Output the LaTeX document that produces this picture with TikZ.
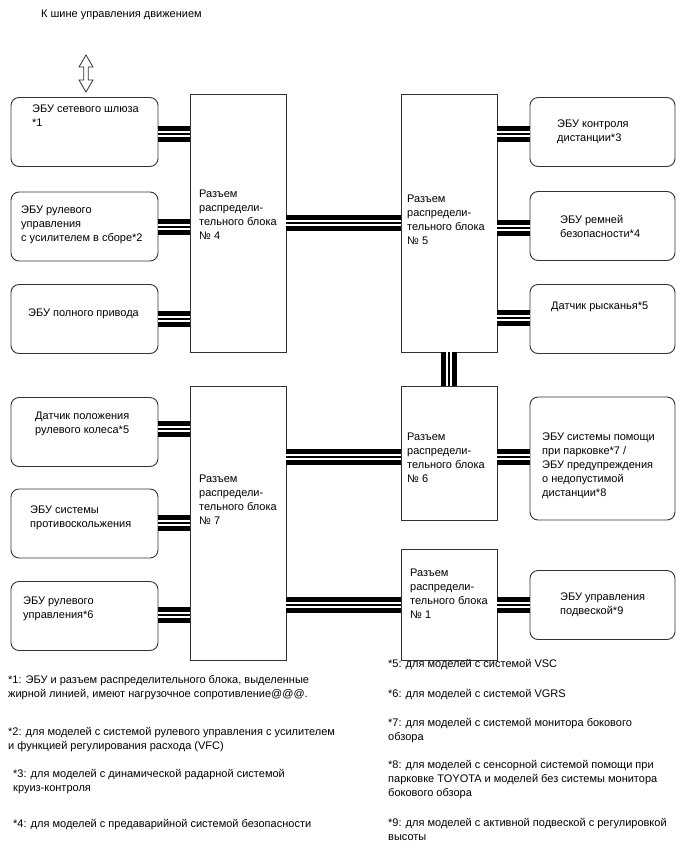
\documentclass[tikz,border=0pt]{standalone}
\usepackage{fontspec}
\setmainfont{Liberation Sans}
\usetikzlibrary{positioning}
\definecolor{lnkgray}{HTML}{333333}

\tikzset{
  ecu/.style={draw=lnkgray, line width=0.9pt, rounded corners=8pt, minimum width=147pt, minimum height=69pt, inner sep=0pt},
  jbox/.style={draw=lnkgray, line width=0.9pt, minimum width=96pt, inner sep=0pt},
  txt/.style={anchor=north west, inner sep=0pt, align=left, font=\fontsize{11}{14}\selectfont},
  bus/.style={line width=15.5pt, postaction={draw=white, line width=6.4pt}, postaction={draw=black, line width=1.2pt}}
}
\newcommand{\busline}[3]{\draw[bus] (#1.east |- 0,#3) -- (#2.west |- 0,#3);}

\begin{document}
\begin{tikzpicture}[x=1pt, y=-1pt]
\useasboundingbox (0,0) rectangle (688,852);

% bus arrow
\node[txt] (title) at (41,10) {К шине управления движением};
\draw[lnkgray, line width=0.8pt, fill=white] (86,55) -- (93,67) -- (88.2,67) -- (88.2,80) -- (93,80) -- (86,92) -- (79,80) -- (83.8,80) -- (83.8,67) -- (79,67) -- cycle;

% junction blocks
\node[jbox, minimum height=258pt] (jb4) at (238,223) {};
\node[jbox, minimum height=258pt] (jb5) at (449,223) {};
\node[jbox, minimum height=134pt] (jb6) at (449,453) {};
\node[jbox, minimum height=274pt] (jb7) at (238,523) {};
\node[jbox, minimum height=111pt] (jb1) at (449,604.5) {};

% ECUs, left
\node[ecu] (gw) at (84.5,132) {};
\node[ecu] (eps) at (84.5,226.5) {};
\node[ecu] (awd) at (84.5,319) {};
\node[ecu] (sas) at (84.5,432) {};
\node[ecu] (skid) at (84.5,523.5) {};
\node[ecu] (vgrs) at (84.5,616) {};

% ECUs, right
\node[ecu, minimum width=145pt] (dist) at (602.5,132) {};
\node[ecu, minimum width=145pt] (belt) at (602.5,226) {};
\node[ecu, minimum width=145pt] (yaw) at (602.5,319) {};
\node[ecu, minimum width=145pt, minimum height=123pt] (park) at (602.5,458.5) {};
\node[ecu, minimum width=145pt] (susp) at (602.5,605) {};

% texts
\node[txt] (gwt) at (32,105) {ЭБУ сетевого шлюза\\*1};
\node[txt] (epst) at (21,206) {ЭБУ рулевого\\управления\\с усилителем в сборе*2};
\node[txt] (awdt) at (28,309) {ЭБУ полного привода};
\node[txt] (sast) at (35,412) {Датчик положения\\рулевого колеса*5};
\node[txt] (skidt) at (30,506) {ЭБУ системы\\противоскольжения};
\node[txt] (vgrst) at (23,597) {ЭБУ рулевого\\управления*6};
\node[txt] (distt) at (557,120) {ЭБУ контроля\\дистанции*3};
\node[txt] (beltt) at (560,215) {ЭБУ ремней\\безопасности*4};
\node[txt] (yawt) at (551,302) {Датчик рысканья*5};
\node[txt] (parkt) at (542,433) {ЭБУ системы помощи\\при парковке*7 /\\ЭБУ предупреждения\\о недопустимой\\дистанции*8};
\node[txt] (suspt) at (560,593) {ЭБУ управления\\подвеской*9};
\node[txt] (jb4t) at (199,190) {Разъем\\распредели-\\тельного блока\\№ 4};
\node[txt] (jb5t) at (407,195) {Разъем\\распредели-\\тельного блока\\№ 5};
\node[txt] (jb6t) at (407,433) {Разъем\\распредели-\\тельного блока\\№ 6};
\node[txt] (jb7t) at (199,475) {Разъем\\распредели-\\тельного блока\\№ 7};
\node[txt] (jb1t) at (410,569) {Разъем\\распредели-\\тельного блока\\№ 1};

% buses
\busline{gw}{jb4}{134}
\busline{eps}{jb4}{227}
\busline{awd}{jb4}{319}
\busline{jb4}{jb5}{223}
\busline{jb5}{dist}{134}
\busline{jb5}{belt}{228}
\busline{jb5}{yaw}{318}
\draw[bus] (jb5.south) -- (jb6.north);
\busline{sas}{jb7}{429}
\busline{skid}{jb7}{523}
\busline{vgrs}{jb7}{615}
\busline{jb7}{jb6}{457}
\busline{jb6}{park}{457}
\busline{jb7}{jb1}{605}
\busline{jb1}{susp}{605}

% notes
\node[txt] (fn1) at (8,675) {*1: ЭБУ и разъем распределительного блока, выделенные\\жирной линией, имеют нагрузочное сопротивление@@@.};
\node[txt] (fn2) at (8,727) {*2: для моделей с системой рулевого управления с усилителем\\и функцией регулирования расхода (VFC)};
\node[txt] (fn3) at (13,769) {*3: для моделей с динамической радарной системой\\круиз-контроля};
\node[txt] (fn4) at (13,819) {*4: для моделей с предаварийной системой безопасности};
\node[txt] (fn5) at (388,659) {*5: для моделей с системой VSC};
\node[txt] (fn6) at (388,689) {*6: для моделей с системой VGRS};
\node[txt] (fn7) at (388,718) {*7: для моделей с системой монитора бокового\\обзора};
\node[txt] (fn8) at (388,760) {*8: для моделей с сенсорной системой помощи при\\парковке TOYOTA и моделей без системы монитора\\бокового обзора};
\node[txt] (fn9) at (388,818) {*9: для моделей с активной подвеской с регулировкой\\высоты};
\end{tikzpicture}
\end{document}
